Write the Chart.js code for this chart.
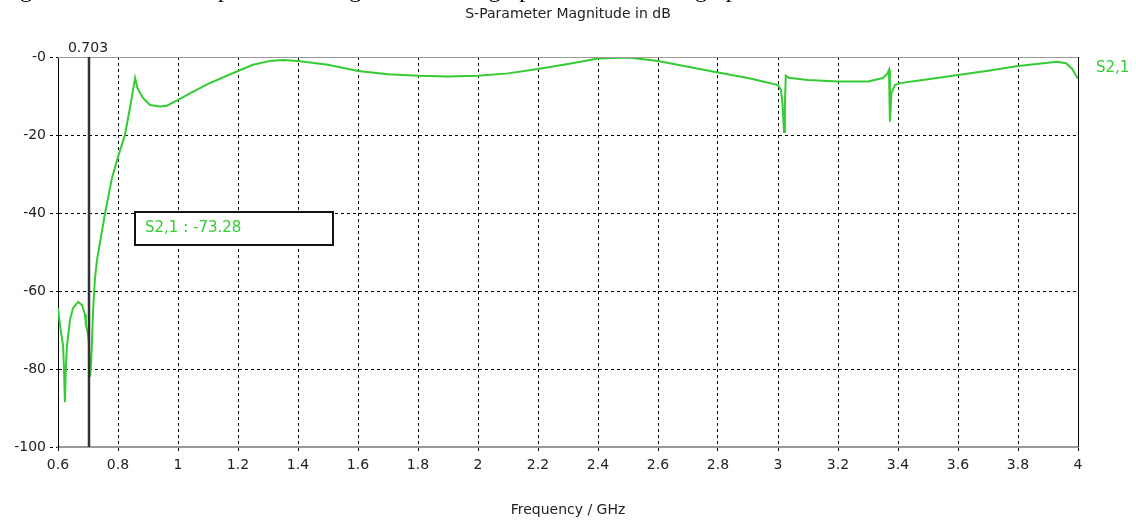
<!DOCTYPE html>
<html>
<head>
<meta charset="utf-8">
<script src="https://cdn.jsdelivr.net/npm/chart.js@4.4.0/dist/chart.umd.min.js"></script>
<style>
  html, body { margin: 0; padding: 0; background: #fff; overflow: hidden; }
  #wrap { position: relative; width: 1136px; height: 520px; }
  #caption { position: absolute; left: 0; top: -24px; font: 24px "Liberation Serif", serif; color: #000; white-space: nowrap; }
</style>
</head>
<body>
<div id="wrap">
  <canvas id="sparam" width="1136" height="520"></canvas>
  <div id="caption">Figure 5: Simulated S-parameter magnitude of the graphene filter in the graph</div>
</div>
<script>
// ---- data ----
var freq = [0.600, 0.607, 0.617, 0.620, 0.623, 0.626, 0.630, 0.640, 0.650, 0.667,
            0.680, 0.690, 0.693, 0.700, 0.703, 0.707, 0.711, 0.717, 0.723, 0.730,
            0.757, 0.780, 0.800, 0.823, 0.840, 0.857, 0.865, 0.883, 0.907, 0.940,
            0.963, 1.000, 1.040, 1.073, 1.100, 1.200, 1.250, 1.307, 1.350, 1.400,
            1.500, 1.600, 1.700, 1.800, 1.900, 2.000, 2.100, 2.200, 2.300, 2.400,
            2.500, 2.600, 2.700, 2.800, 2.900, 2.950, 3.000, 3.010, 3.015, 3.020,
            3.023, 3.026, 3.035, 3.100, 3.200, 3.300, 3.350, 3.365, 3.370, 3.373,
            3.378, 3.390, 3.407, 3.500, 3.600, 3.700, 3.800, 3.900, 3.930, 3.960,
            3.980, 4.000];
var s21 = [-64.4, -69, -74, -80, -88.5, -80, -74, -67.4, -64.4, -62.8,
           -63.6, -66, -68.7, -71, -73.28, -82, -77.7, -65, -57, -52,
           -40, -31, -25.6, -20, -13, -5.4, -8, -10.5, -12.3, -12.7,
           -12.5, -11, -9.3, -8, -6.9, -3.6, -2.0, -1.0, -0.8, -1.0,
           -2.0, -3.6, -4.4, -4.8, -5.0, -4.8, -4.2, -3.1, -1.8, -0.4,
           -0.1, -1.0, -2.5, -4.0, -5.4, -6.3, -7.2, -8.5, -12, -19.2,
           -12, -4.8, -5.3, -5.9, -6.3, -6.3, -5.4, -4.2, -3.3, -16.6,
           -9.2, -7.2, -6.7, -5.7, -4.6, -3.5, -2.3, -1.5, -1.2, -1.6,
           -3, -5.6];

var xTicks = [0.6, 0.8, 1, 1.2, 1.4, 1.6, 1.8, 2, 2.2, 2.4, 2.6, 2.8, 3, 3.2, 3.4, 3.6, 3.8, 4];
var xTickLabels = ['0.6', '0.8', '1', '1.2', '1.4', '1.6', '1.8', '2', '2.2', '2.4', '2.6', '2.8', '3', '3.2', '3.4', '3.6', '3.8', '4'];
var yTicks = [-100, -80, -60, -40, -20, 0];
var yTickLabels = ['-100', '-80', '-60', '-40', '-20', '-0'];

var markerFreq = 0.703;
var markerLabel = '0.703';
var markerText = 'S2,1 : -73.28';
var seriesName = 'S2,1';
var chartTitle = 'S-Parameter Magnitude in dB';
var xTitle = 'Frequency / GHz';

var green = 'rgb(52, 204, 52)';
var fontFam = '"DejaVu Sans", sans-serif';

// extra drawing: frame, marker, annotation box, titles
var extras = {
    id: 'extras',
    afterDatasetsDraw: function(chart){
        var ctx = chart.ctx;
        var a = chart.chartArea;
        var xs = chart.scales.x;
        ctx.save();

        // frame top / right
        ctx.lineWidth = 1;
        ctx.strokeStyle = '#999';
        ctx.beginPath();
        ctx.moveTo(a.left, a.top + 0.5);
        ctx.lineTo(a.right, a.top + 0.5);
        ctx.stroke();
        ctx.strokeStyle = '#000';
        ctx.beginPath();
        ctx.moveTo(a.right + 0.5, a.top);
        ctx.lineTo(a.right + 0.5, a.bottom);
        ctx.stroke();

        // marker line
        var mx = Math.round(xs.getPixelForValue(markerFreq));
        ctx.strokeStyle = '#333';
        ctx.lineWidth = 2.5;
        ctx.beginPath();
        ctx.moveTo(mx, a.top);
        ctx.lineTo(mx, a.bottom);
        ctx.stroke();

        ctx.font = '14px ' + fontFam;
        ctx.fillStyle = '#222';
        ctx.textAlign = 'center';
        ctx.textBaseline = 'bottom';
        ctx.fillText(markerLabel, mx - 1, a.top - 2);

        // annotation box
        var bx = a.left + 77, by = a.top + 155, bw = 198, bh = 33;
        ctx.fillStyle = '#fff';
        ctx.fillRect(bx, by, bw, bh);
        ctx.strokeStyle = '#111';
        ctx.lineWidth = 2;
        ctx.strokeRect(bx, by, bw, bh);
        ctx.fillStyle = green;
        ctx.textAlign = 'left';
        ctx.textBaseline = 'middle';
        ctx.font = '15px ' + fontFam;
        ctx.fillText(markerText, bx + 10, by + bh / 2);

        // series name at right
        ctx.fillText(seriesName, a.right + 18, a.top + 11);

        // titles
        ctx.fillStyle = '#222';
        ctx.textAlign = 'center';
        ctx.font = '14px ' + fontFam;
        ctx.fillText(chartTitle, (a.left + a.right) / 2, 14);
        ctx.fillText(xTitle, (a.left + a.right) / 2, 510);

        ctx.restore();
    }
};

var chart = new Chart(document.getElementById('sparam'), {
    type: 'line',
    data: {
        datasets: [{
            label: seriesName,
            data: freq.map(function(f, i){ return {x: f, y: s21[i]}; }),
            borderColor: green,
            borderWidth: 2,
            pointRadius: 0,
            tension: 0,
            fill: false
        }]
    },
    options: {
        responsive: false,
        animation: false,
        layout: { padding: { left: 0, right: 58, top: 57, bottom: 0 } },
        plugins: {
            legend: { display: false },
            tooltip: { enabled: false }
        },
        scales: {
            x: {
                type: 'linear',
                min: 0.6,
                max: 4,
                afterBuildTicks: function(scale){
                    scale.ticks = xTicks.map(function(v){ return {value: v}; });
                },
                afterFit: function(scale){ scale.height = 73; },
                ticks: {
                    color: '#222',
                    font: { family: fontFam, size: 14 },
                    padding: 4,
                    maxRotation: 0,
                    autoSkip: false,
                    callback: function(v){ return xTickLabels[xTicks.indexOf(Math.round(v * 10) / 10)]; }
                },
                grid: { color: '#000', lineWidth: 1, tickLength: 6, tickBorderDash: [3, 3] },
                border: { display: true, color: '#999', width: 2, dash: [3, 3] }
            },
            y: {
                min: -100,
                max: 0,
                afterBuildTicks: function(scale){
                    scale.ticks = yTicks.map(function(v){ return {value: v}; });
                },
                afterFit: function(scale){ scale.width = 58; },
                ticks: {
                    color: '#222',
                    font: { family: fontFam, size: 14 },
                    padding: 4,
                    callback: function(v){ return yTickLabels[yTicks.indexOf(v)]; }
                },
                grid: { color: '#000', lineWidth: 1, tickLength: 8, tickBorderDash: [3, 3] },
                border: { display: true, color: '#000', width: 1, dash: [3, 3] }
            }
        }
    },
    plugins: [extras]
});
</script>
</body>
</html>
